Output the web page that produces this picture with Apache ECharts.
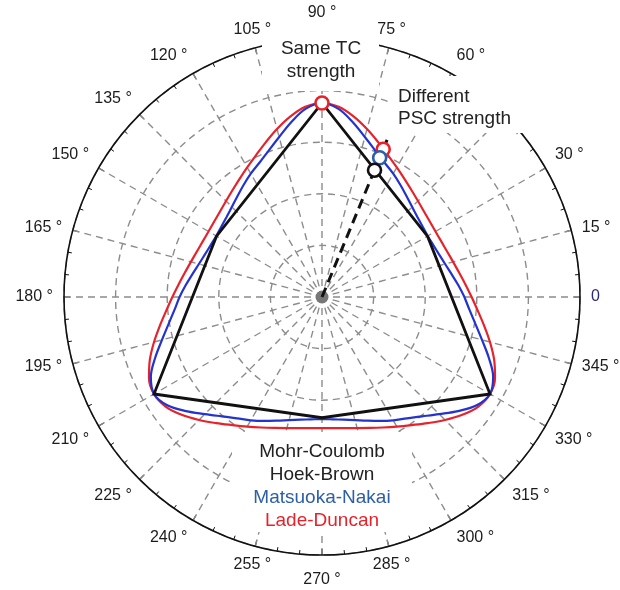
<!DOCTYPE html>
<html>
<head>
<meta charset="utf-8">
<script src="https://cdn.jsdelivr.net/npm/echarts@6/dist/echarts.min.js"></script>
<style>
  html, body { margin: 0; padding: 0; background: #ffffff; }
  #chart { width: 620px; height: 590px; }
</style>
</head>
<body>
<div id="chart"></div>
<script>
// Angle axis ticks (degrees) and their labels
const angleTicks = [0, 15, 30, 45, 60, 75, 90, 105, 120, 135, 150, 165,
                    180, 195, 210, 225, 240, 255, 270, 285, 300, 315, 330, 345];
const angleLabels = ['0', '15 °', '30 °', '45 °', '60 °', '75 °', '90 °', '105 °',
                     '120 °', '135 °', '150 °', '165 °', '180 °', '195 °', '210 °',
                     '225 °', '240 °', '255 °', '270 °', '285 °', '300 °', '315 °',
                     '330 °', '345 °'];

// Mohr-Coulomb / Hoek-Brown section: corner angles and radii
const mcAngles = [30, 90, 150, 210, 270, 330, 30];
const mcRadii  = [118, 188, 118, 188, 117, 188, 118];

// Smooth criteria sampled every 5 degrees (0..360)
const curveAngles = [0, 5, 10, 15, 20, 25, 30, 35, 40, 45, 50, 55, 60, 65, 70, 75, 80, 85,
  90, 95, 100, 105, 110, 115, 120, 125, 130, 135, 140, 145, 150, 155, 160, 165, 170, 175,
  180, 185, 190, 195, 200, 205, 210, 215, 220, 225, 230, 235, 240, 245, 250, 255, 260, 265,
  270, 275, 280, 285, 290, 295, 300, 305, 310, 315, 320, 325, 330, 335, 340, 345, 350, 355, 360];

const matsuokaNakai = [
  138, 132.5, 127.5, 123.5, 120.7, 119, 118.3, 119, 120.7, 123.5, 127.5, 132.5,
  138, 143.5, 151, 160.5, 172, 183, 188, 183, 172, 160.5, 151, 143.5,
  138, 132.5, 127.5, 123.5, 120.7, 119, 118.3, 119, 120.7, 123.5, 127.5, 132.5,
  138, 143.5, 151, 160.5, 172, 183, 188, 183, 172, 160.5, 151, 143.5,
  138, 132.5, 127.5, 123.5, 120.7, 119, 118.3, 119, 120.7, 123.5, 127.5, 132.5,
  138, 143.5, 151, 160.5, 172, 183, 188, 183, 172, 160.5, 151, 143.5,
  138];

const ladeDuncan = [
  145, 139.5, 135, 131.5, 129, 127.5, 127, 127.5, 129, 131.5, 135, 139.5,
  145, 151.5, 159.5, 168.5, 177.5, 185, 188, 185, 177.5, 168.5, 159.5, 151.5,
  145, 139.5, 135, 131.5, 129, 127.5, 127, 127.5, 129, 131.5, 135, 139.5,
  145, 151.5, 159.5, 168.5, 177.5, 185, 188, 185, 177.5, 168.5, 159.5, 151.5,
  145, 139.5, 135, 131.5, 129, 127.5, 127, 127.5, 129, 131.5, 135, 139.5,
  145, 151.5, 159.5, 168.5, 177.5, 185, 188, 185, 177.5, 168.5, 159.5, 151.5,
  145];

// Stress path direction and the strength points along it
const pathAngle = 67.5;
const pathLength = 167;
const pscMohr = 133;
const pscMatsuoka = 146;
const pscLade = 155;
// Common triaxial compression point
const tcAngle = 90;
const tcRadius = 188;

const pairs = (radii, angles) => radii.map((r, i) => [r, angles[i]]);

const gridLine = { color: '#8c8c8c', width: 1.4, type: [7, 5] };
const black = '#111111';
const red = '#e6222b';
const blue = '#2233cf';
const steel = '#2d5ea8';
const font = 'Arial, "Liberation Sans"';

const chart = echarts.init(document.getElementById('chart'), null, { renderer: 'canvas' });

chart.setOption({
  animation: false,
  backgroundColor: '#ffffff',
  polar: { center: [322, 297], radius: 258 },
  angleAxis: {
    type: 'value', min: 0, max: 360, interval: 15,
    startAngle: 0, clockwise: false,
    axisLine: { show: true, lineStyle: { color: black, width: 1.6 } },
    axisTick: { show: true, inside: true, length: 6, lineStyle: { color: black, width: 1.2 } },
    minorTick: { show: true, splitNumber: 3, length: 4, lineStyle: { color: black, width: 1 } },
    splitLine: { show: true, lineStyle: gridLine },
    axisLabel: {
      margin: 11,
      formatter: function (v) {
        const i = angleTicks.indexOf(v);
        if (i < 0) return '';
        const key = v === 0 ? 'z' : (v === 90 ? 'up' : (v === 270 ? 'dn' : 'a'));
        return '{' + key + '|' + angleLabels[i] + '}';
      },
      rich: {
        a:  { fontFamily: font, fontSize: 16, color: '#1c1c1c' },
        up: { fontFamily: font, fontSize: 16, color: '#1c1c1c', padding: [0, 0, 7, 0] },
        dn: { fontFamily: font, fontSize: 16, color: '#1c1c1c', padding: [6, 0, 0, 0] },
        z:  { fontFamily: font, fontSize: 16, color: '#2b2b70' }
      }
    }
  },
  radiusAxis: {
    type: 'value', min: 0, max: 250, interval: 50,
    axisLine: { show: false }, axisTick: { show: false }, axisLabel: { show: false },
    splitLine: { show: true, lineStyle: gridLine }
  },
  graphic: [
    { type: 'rect', z: 1, shape: { x: 262, y: 30, width: 117, height: 61 }, style: { fill: '#ffffff' } },
    { type: 'rect', z: 1, shape: { x: 390, y: 76, width: 162, height: 57 }, style: { fill: '#ffffff' } },
    { type: 'rect', z: 1, shape: { x: 232, y: 432, width: 180, height: 100 }, style: { fill: '#ffffff' } },
    { type: 'text', z: 5, x: 321, y: 49, style: { text: 'Same TC', font: '19px ' + font, fill: '#222222', align: 'center', verticalAlign: 'middle' } },
    { type: 'text', z: 5, x: 321, y: 72, style: { text: 'strength', font: '19px ' + font, fill: '#222222', align: 'center', verticalAlign: 'middle' } },
    { type: 'text', z: 5, x: 398, y: 97, style: { text: 'Different', font: '19px ' + font, fill: '#222222', align: 'left', verticalAlign: 'middle' } },
    { type: 'text', z: 5, x: 398, y: 119, style: { text: 'PSC strength', font: '19px ' + font, fill: '#222222', align: 'left', verticalAlign: 'middle' } },
    { type: 'text', z: 5, x: 322, y: 452, style: { text: 'Mohr-Coulomb', font: '19px ' + font, fill: '#222222', align: 'center', verticalAlign: 'middle' } },
    { type: 'text', z: 5, x: 322, y: 475, style: { text: 'Hoek-Brown', font: '19px ' + font, fill: '#222222', align: 'center', verticalAlign: 'middle' } },
    { type: 'text', z: 5, x: 322, y: 498, style: { text: 'Matsuoka-Nakai', font: '19px ' + font, fill: steel, align: 'center', verticalAlign: 'middle' } },
    { type: 'text', z: 5, x: 322, y: 521, style: { text: 'Lade-Duncan', font: '19px ' + font, fill: red, align: 'center', verticalAlign: 'middle' } }
  ],
  series: [
    {
      type: 'line', coordinateSystem: 'polar', name: 'Lade-Duncan',
      data: pairs(ladeDuncan, curveAngles), smooth: 0.35, symbol: 'none',
      lineStyle: { color: red, width: 2.2 }, z: 3
    },
    {
      type: 'line', coordinateSystem: 'polar', name: 'Matsuoka-Nakai',
      data: pairs(matsuokaNakai, curveAngles), smooth: 0.35, symbol: 'none',
      lineStyle: { color: blue, width: 2.2 }, z: 4
    },
    {
      type: 'line', coordinateSystem: 'polar', name: 'Mohr-Coulomb',
      data: pairs(mcRadii, mcAngles), symbol: 'none',
      lineStyle: { color: black, width: 2.8, join: 'miter' }, z: 5
    },
    {
      type: 'scatter', coordinateSystem: 'polar', name: 'origin',
      data: [[0, 0]], symbol: 'circle', symbolSize: 13,
      itemStyle: { color: '#777777', opacity: 1 }, z: 6
    },
    {
      type: 'line', coordinateSystem: 'polar', name: 'path',
      data: [[0, pathAngle], [pathLength, pathAngle]], symbol: 'none',
      lineStyle: { color: black, width: 3, type: [10, 6] }, z: 7
    },
    {
      type: 'scatter', coordinateSystem: 'polar', name: 'LD point',
      data: [[pscLade, pathAngle], [tcRadius, tcAngle]], symbol: 'circle', symbolSize: 13,
      itemStyle: { color: '#ffffff', borderColor: red, borderWidth: 2.6, opacity: 1 }, z: 8
    },
    {
      type: 'scatter', coordinateSystem: 'polar', name: 'MN point',
      data: [[pscMatsuoka, pathAngle]], symbol: 'circle', symbolSize: 13,
      itemStyle: { color: '#ffffff', borderColor: steel, borderWidth: 2.6, opacity: 1 }, z: 9
    },
    {
      type: 'scatter', coordinateSystem: 'polar', name: 'MC point',
      data: [[pscMohr, pathAngle]], symbol: 'circle', symbolSize: 13,
      itemStyle: { color: '#ffffff', borderColor: black, borderWidth: 2.6, opacity: 1 }, z: 10
    }
  ]
});
</script>
</body>
</html>
